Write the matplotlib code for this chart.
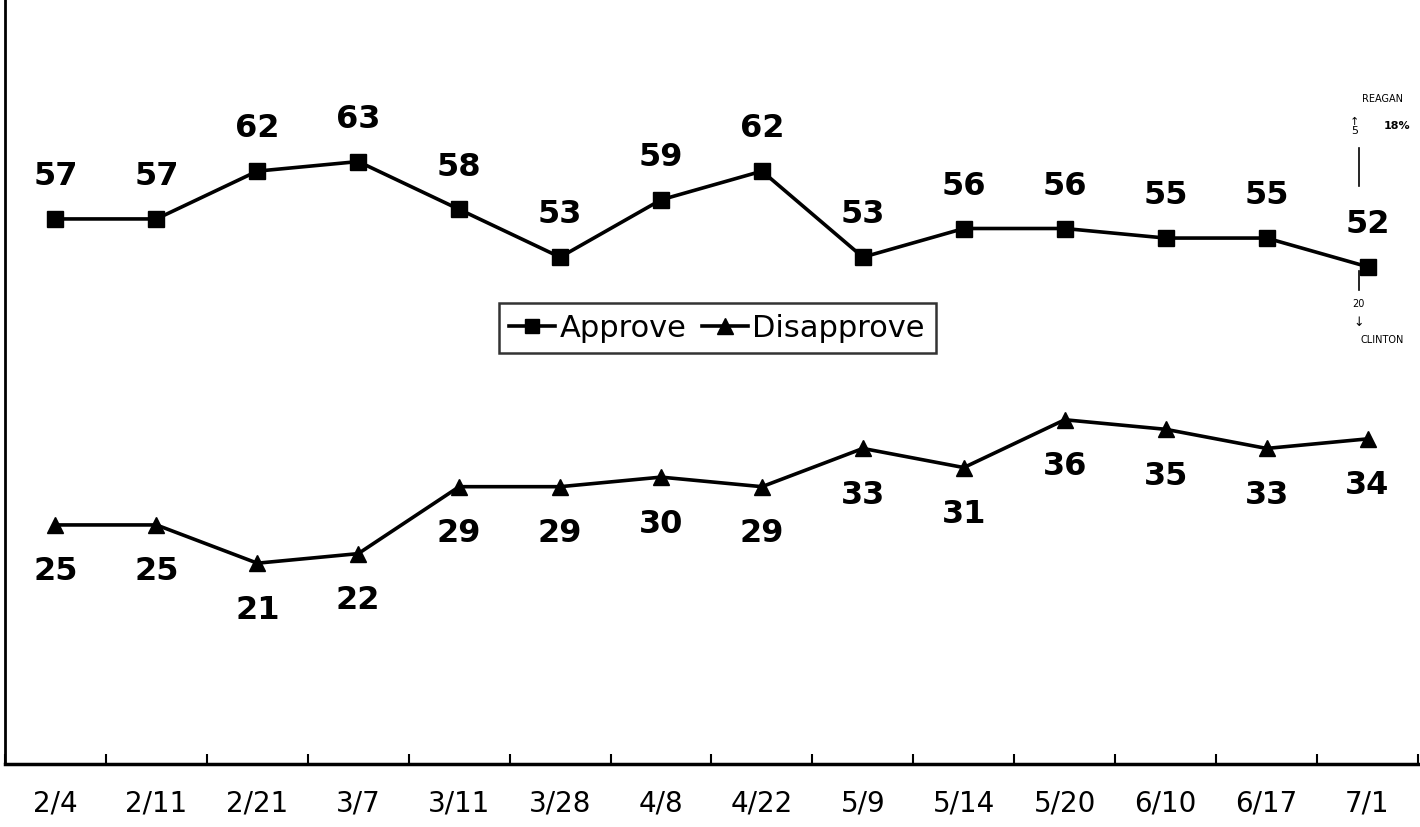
import matplotlib
matplotlib.use("Agg")
import matplotlib.pyplot as plt
from matplotlib.lines import Line2D

dates = ["2/4", "2/11", "2/21", "3/7", "3/11", "3/28", "4/8", "4/22",
         "5/9", "5/14", "5/20", "6/10", "6/17", "7/1"]
approve = [57, 57, 62, 63, 58, 53, 59, 62, 53, 56, 56, 55, 55, 52]
disapprove = [25, 25, 21, 22, 29, 29, 30, 29, 33, 31, 36, 35, 33, 34]

fig = plt.figure(figsize=(14.2, 8.28), dpi=100)
ax = fig.add_axes([5 / 1420, 63 / 828, 1413 / 1420, 765 / 828])

x = list(range(len(dates)))
ax.plot(x, approve, color="black", lw=2.6, marker="s", ms=11, zorder=3)
ax.plot(x, disapprove, color="black", lw=2.6, marker="^", ms=12, zorder=3)

for xi, v in zip(x, approve):
    ax.annotate(str(v), (xi, v), xytext=(0, 20), textcoords="offset points",
                ha="center", va="bottom", fontsize=23, fontweight="bold")
for xi, v in zip(x, disapprove):
    ax.annotate(str(v), (xi, v), xytext=(0, -22), textcoords="offset points",
                ha="center", va="top", fontsize=23, fontweight="bold")

ax.set_xlim(-0.5, len(dates) - 0.5)
ax.set_ylim(0, 80)
ax.set_xticks(x)
ax.set_xticklabels(dates, fontsize=20)
ax.set_xticks([i - 0.5 for i in range(len(dates) + 1)], minor=True)
ax.tick_params(axis="x", which="major", length=0, pad=18)
ax.tick_params(axis="x", which="minor", length=7, width=1.5, direction="in")
ax.set_yticks([])
for s in ["top", "right"]:
    ax.spines[s].set_visible(False)
ax.spines["left"].set_linewidth(2)
ax.spines["bottom"].set_linewidth(2.5)

handles = [Line2D([], [], color="black", lw=2.6, marker="s", ms=10),
           Line2D([], [], color="black", lw=2.6, marker="^", ms=11)]
leg = ax.legend(handles, ["Approve", "Disapprove"], loc="center",
                bbox_to_anchor=(0.504, 0.57), ncol=2, fontsize=22,
                frameon=True, fancybox=False, edgecolor="black",
                handlelength=1.5, handletextpad=0.15, columnspacing=0.5,
                borderpad=0.35)
leg.get_frame().set_linewidth(1.8)

# handwritten notes at right
t = ax.transAxes
ax.text(0.975, 0.87, "REAGAN", transform=t, fontsize=7, ha="center", va="center")
ax.text(0.955, 0.835, "↑\n5", transform=t, fontsize=8, ha="center", va="center", linespacing=0.9)
ax.text(0.985, 0.835, "18%", transform=t, fontsize=8, fontweight="bold", ha="center", va="center")
ax.plot([0.958, 0.958], [0.755, 0.805], transform=t, color="black", lw=1.2)
ax.plot([0.958, 0.958], [0.62, 0.645], transform=t, color="black", lw=1.2)
ax.text(0.958, 0.602, "20", transform=t, fontsize=7, ha="center", va="center")
ax.text(0.958, 0.578, "↓", transform=t, fontsize=9, ha="center", va="center")
ax.text(0.975, 0.555, "CLINTON", transform=t, fontsize=7, ha="center", va="center")

fig.savefig("out.png", dpi=100)
